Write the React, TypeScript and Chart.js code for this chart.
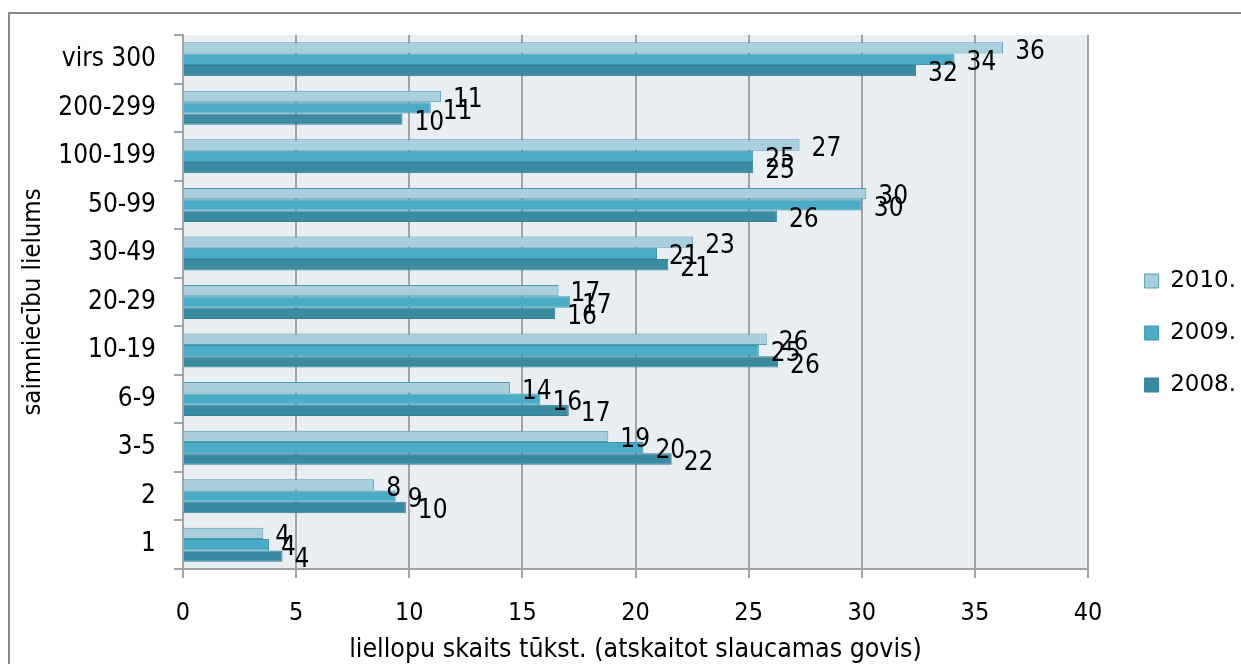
import React, { useEffect, useRef } from "react";
import { Chart, registerables } from "chart.js";

Chart.register(...registerables);

const categories = ["virs 300", "200-299", "100-199", "50-99", "30-49", "20-29", "10-19", "6-9", "3-5", "2", "1"];
const seriesNames = ["2010.", "2009.", "2008."];
const values2010 = [36.25, 11.4, 27.25, 30.2, 22.55, 16.6, 25.8, 14.45, 18.8, 8.45, 3.55];
const values2009 = [34.1, 10.95, 25.2, 30.0, 20.95, 17.1, 25.45, 15.8, 20.35, 9.4, 3.8];
const values2008 = [32.4, 9.7, 25.2, 26.25, 21.45, 16.45, 26.3, 17.05, 21.6, 9.85, 4.4];
const xMin = 0;
const xMax = 40;
const xStep = 5;
const xTitle = "liellopu skaits tūkst. (atskaitot slaucamas govis)";
const yTitle = "saimniecību lielums";

const fillColors = ["#A9CFDC", "#4AACC6", "#3A8AA1"];
const borderColors = ["#4F9DB3", "#3E94AC", "#357F95"];

const FONT = "'DejaVu Sans Condensed', 'DejaVu Sans', sans-serif";
const LEGEND_FONT = "'DejaVu Sans', sans-serif";
const W = 1241;
const H = 664;
const PLOT_LEFT = 183;
const PLOT_RIGHT = 1088;
const PLOT_TOP = 35;
const PLOT_BOTTOM = 569;
const PAD_BOTTOM = 33;
const PAD_RIGHT = -5;

const plotBg = {
  id: "plotBg",
  beforeDraw(chart: any) {
    const { ctx, chartArea } = chart;
    ctx.save();
    ctx.fillStyle = "#E8EEF2";
    ctx.fillRect(chartArea.left, chartArea.top, chartArea.right - chartArea.left, chartArea.bottom - chartArea.top);
    ctx.restore();
  },
};

const valueLabels = {
  id: "valueLabels",
  afterDatasetsDraw(chart: any) {
    const { ctx } = chart;
    ctx.save();
    ctx.font = `26px ${FONT}`;
    ctx.fillStyle = "#000";
    ctx.textAlign = "left";
    ctx.textBaseline = "middle";
    chart.data.datasets.forEach((ds: any, di: number) => {
      const meta = chart.getDatasetMeta(di);
      meta.data.forEach((el: any, i: number) => {
        const v = ds.data[i];
        ctx.fillText(String(Math.round(v)), el.x + 12, el.y + 4);
      });
    });
    ctx.restore();
  },
};

export default function App() {
  const ref = useRef<HTMLCanvasElement | null>(null);

  useEffect(() => {
    if (!ref.current) return;
    Chart.defaults.color = "#000";
    const seriesValues = [values2010, values2009, values2008];
    const chart = new Chart(ref.current, {
      type: "bar",
      data: {
        labels: categories,
        datasets: seriesNames.map((name, i) => ({
          label: name,
          data: seriesValues[i],
          backgroundColor: fillColors[i],
          borderColor: borderColors[i],
          borderWidth: 1,
          categoryPercentage: 0.7,
          barPercentage: 1.0,
        })),
      },
      options: {
        indexAxis: "y",
        responsive: false,
        animation: false,
        devicePixelRatio: 1,
        layout: { padding: { top: PLOT_TOP, bottom: PAD_BOTTOM, left: 0, right: PAD_RIGHT } },
        plugins: {
          tooltip: { enabled: false },
          legend: {
            position: "right",
            align: "center",
            labels: {
              boxWidth: 14,
              boxHeight: 14,
              padding: 29,
              color: "#000",
              font: { family: LEGEND_FONT, size: 23 },
            },
          },
        },
        scales: {
          x: {
            type: "linear",
            min: xMin,
            max: xMax,
            position: "bottom",
            ticks: { stepSize: xStep, padding: 20, color: "#000", font: { family: FONT, size: 25 } },
            grid: { color: "#A3A3A3", lineWidth: 2, tickLength: 9, drawTicks: true },
            border: { display: true, color: "#A3A3A3", width: 2 },
            title: {
              display: true,
              text: xTitle,
              color: "#000",
              font: { family: FONT, size: 26.5 },
              padding: { top: 0, bottom: -35 },
            },
            afterFit: (s: any) => {
              s.height = H - PAD_BOTTOM - PLOT_BOTTOM;
            },
          },
          y: {
            type: "category",
            position: "left",
            ticks: { padding: 18, color: "#000", font: { family: FONT, size: 26 } },
            grid: { drawOnChartArea: false, drawTicks: true, tickLength: 9, color: "#A3A3A3", lineWidth: 2 },
            border: { display: true, color: "#A3A3A3", width: 2 },
            title: {
              display: true,
              text: yTitle,
              color: "#000",
              font: { family: FONT, size: 25.5 },
              padding: { top: 18, bottom: 0 },
            },
            afterFit: (s: any) => {
              s.width = PLOT_LEFT;
            },
          },
          pad: {
            type: "linear",
            position: "right",
            display: true,
            ticks: { display: false },
            grid: { display: false, drawTicks: false },
            border: { display: false },
            afterFit: (s: any) => {
              const lw = s.chart.legend ? s.chart.legend.width : 120;
              s.width = Math.max(0, W - PAD_RIGHT - PLOT_RIGHT - lw);
            },
          },
        },
      } as any,
      plugins: [plotBg, valueLabels],
    });
    return () => chart.destroy();
  }, []);

  return (
    <div
      style={{
        position: "fixed",
        left: 0,
        top: 0,
        width: W,
        height: H,
        overflow: "hidden",
        background: "#fff",
      }}
    >
      <div
        style={{
          position: "absolute",
          left: 8,
          top: 12,
          width: 1400,
          height: 900,
          border: "2px solid #8A8A8A",
          boxSizing: "border-box",
        }}
      />
      <canvas ref={ref} width={W} height={H} style={{ position: "absolute", left: 0, top: 0, width: W, height: H }} />
    </div>
  );
}
